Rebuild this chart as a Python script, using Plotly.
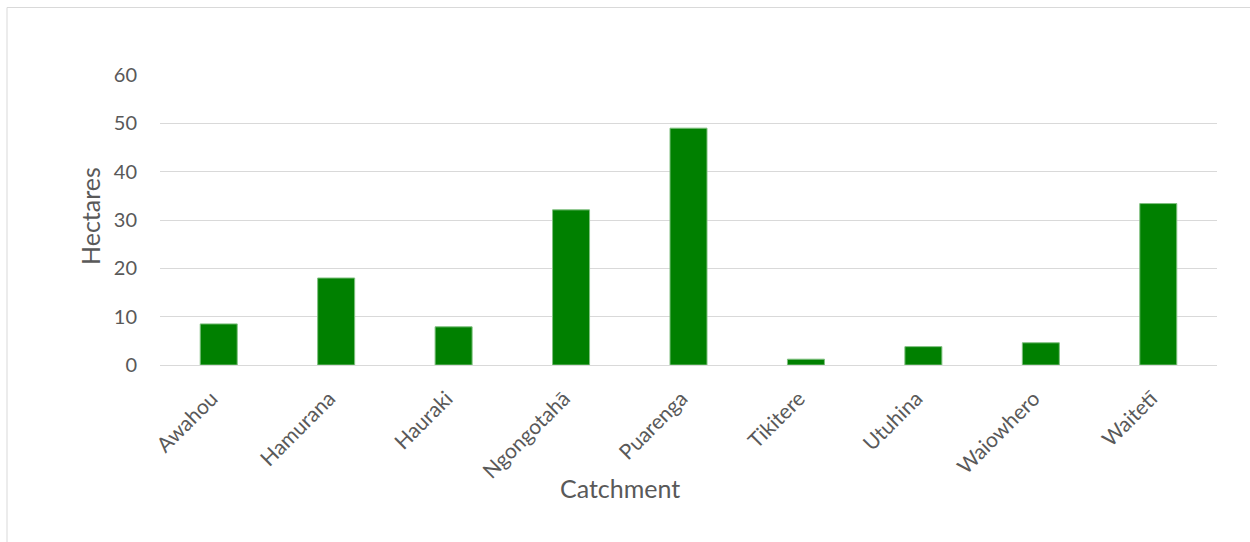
import plotly.graph_objects as go

# Area per catchment (hectares)
catchments = ["Awahou", "Hamurana", "Hauraki", "Ngongotahā", "Puarenga",
              "Tikitere", "Utuhina", "Waiowhero", "Waitetī"]
hectares = [8.5, 18.0, 7.9, 32.1, 49.0, 1.2, 3.8, 4.6, 33.4]

y_ticks = [0, 10, 20, 30, 40, 50, 60]

FONT = "Lato"
TEXT = "#595959"
GRID = "#d9d9d9"

fig = go.Figure(
    go.Bar(
        x=catchments,
        y=hectares,
        marker=dict(color="#008000", line=dict(color="#7fbf7f", width=1)),
        hoverinfo="x+y",
    )
)

W, H = 1250, 542
L, R, T, B = 160, 33, 75, 177
pw, ph = W - L - R, H - T - B


def px_x(px):
    return (px - L) / pw


def px_y(py):
    return (T + ph - py) / ph


fig.update_layout(
    width=W,
    height=H,
    margin=dict(l=L, r=R, t=T, b=B),
    paper_bgcolor="white",
    plot_bgcolor="white",
    bargap=0.685,
    showlegend=False,
    font=dict(family=FONT, color=TEXT),
    xaxis=dict(
        tickangle=-45,
        tickfont=dict(size=21, color=TEXT),
        showgrid=False,
        showline=True,
        linecolor=GRID,
        linewidth=1,
        ticks="",
        ticklabelstandoff=12,
        ticklabelshift=-7,
    ),
    yaxis=dict(
        range=[0, 60],
        tickvals=y_ticks,
        tickfont=dict(size=20, color=TEXT),
        showgrid=True,
        gridcolor=GRID,
        gridwidth=1,
        zeroline=False,
        ticks="",
        ticklabelstandoff=22,
    ),
    annotations=[
        dict(
            text="Catchment",
            xref="paper", yref="paper",
            x=px_x(620), y=px_y(488),
            xanchor="center", yanchor="middle",
            showarrow=False,
            font=dict(size=25, color=TEXT),
        ),
        dict(
            text="Hectares",
            xref="paper", yref="paper",
            x=px_x(90), y=px_y(216),
            xanchor="center", yanchor="middle",
            textangle=-90,
            showarrow=False,
            font=dict(size=25, color=TEXT),
        ),
    ],
    shapes=[
        # light chart-area frame
        dict(
            type="rect",
            xref="paper",
            yref="paper",
            x0=px_x(7),
            x1=px_x(W + 20),
            y0=px_y(H + 20),
            y1=px_y(7.5),
            line=dict(color=GRID, width=1),
            fillcolor="rgba(0,0,0,0)",
            layer="below",
        )
    ],
)

fig.write_html("out.html")
